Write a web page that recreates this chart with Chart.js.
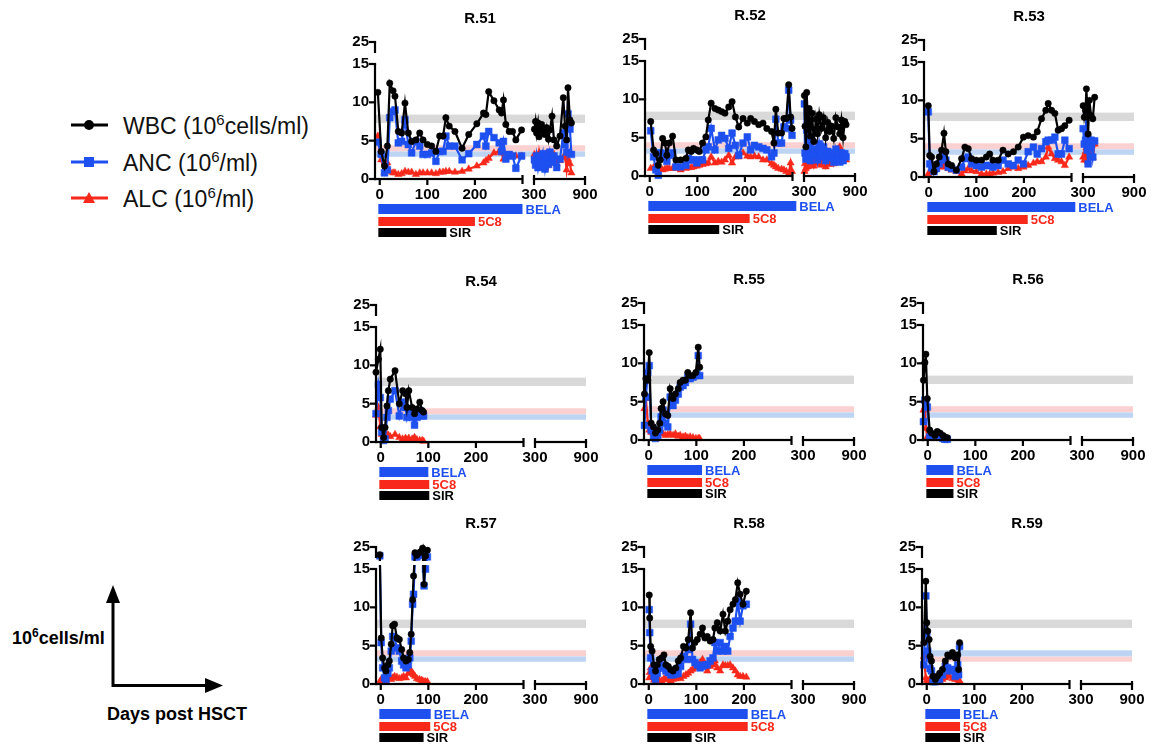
<!DOCTYPE html>
<html>
<head>
<meta charset="utf-8">
<script src="https://cdn.jsdelivr.net/npm/chart.js@4.4.0/dist/chart.umd.min.js"></script>
<style>
body { margin:0; background:#fff; width:1158px; height:748px; position:relative; overflow:hidden; font-family:'Liberation Sans', Arial, sans-serif; }
canvas { position:absolute; z-index:2; }
canvas.axes { z-index:3; pointer-events:none; }
.leg { position:absolute; left:71px; height:30px; display:flex; align-items:center; font-size:23px; color:#111; white-space:nowrap; }
.leg svg { margin-right:15px; }
.leg sup { font-size:15px; }
.note { position:absolute; font-weight:bold; font-size:18px; color:#000; white-space:nowrap; }
.note sup { font-size:12px; }
</style>
</head>
<body>

<div class="leg" style="top:110px">
  <svg width="37" height="14"><line x1="0" y1="7" x2="37" y2="7" stroke="#000" stroke-width="3"/><circle cx="18" cy="7" r="5" fill="#000"/></svg>
  <span>WBC (10<sup>6</sup>cells/ml)</span>
</div>
<div class="leg" style="top:147px">
  <svg width="37" height="14"><line x1="0" y1="7" x2="37" y2="7" stroke="#1e50f0" stroke-width="3"/><rect x="13" y="2" width="10" height="10" fill="#1e50f0"/></svg>
  <span>ANC (10<sup>6</sup>/ml)</span>
</div>
<div class="leg" style="top:183px">
  <svg width="37" height="14"><line x1="0" y1="7" x2="37" y2="7" stroke="#f8281a" stroke-width="3"/><polygon points="18,1 24,12 12,12" fill="#f8281a"/></svg>
  <span>ALC (10<sup>6</sup>/ml)</span>
</div>

<svg style="position:absolute;left:0;top:0" width="300" height="748">
  <line x1="113" y1="687" x2="113" y2="600" stroke="#000" stroke-width="3"/>
  <polygon points="106,603 120,603 113,585" fill="#000"/>
  <line x1="112" y1="685.5" x2="207" y2="685.5" stroke="#000" stroke-width="3"/>
  <polygon points="205,678 205,693 223,685.5" fill="#000"/>
</svg>
<div class="note" style="left:12px;top:626px">10<sup>6</sup>cells/ml</div>
<div class="note" style="left:107px;top:704px">Days post HSCT</div>

<script>
// ---- data (days post HSCT, 10^6 cells/ml) ----
const R51_DAYS = [-4, 3, 10, 16, 21, 28, 32, 39, 46, 53, 60, 67, 76, 84, 91, 100, 109, 118, 126, 133, 139, 146, 158, 173, 187, 204, 218, 223, 229, 240, 251, 256, 260, 265, 272, 279, 286, 298];
const R51_WBC = [11.3, 3.6, 1.7, 4.3, 12.5, 11.5, 10.8, 6.2, 6.0, 9.9, 6.0, 4.9, 5.1, 6.0, 5.1, 4.5, 4.3, 3.6, 5.6, 5.6, 8.0, 6.9, 6.2, 4.0, 5.8, 7.2, 8.6, 8.4, 11.4, 10.2, 9.0, 8.6, 10.3, 7.1, 6.2, 6.2, 5.1, 6.4];
const R51_ANC = [4.8, 3.2, 0.8, 1.2, 8.0, 8.8, 9.0, 4.7, 4.9, 7.7, 4.5, 3.4, 4.9, 4.3, 3.2, 3.2, 3.4, 2.3, 3.6, 3.6, 5.6, 4.3, 4.3, 2.5, 3.3, 4.5, 5.6, 4.3, 6.2, 5.4, 4.7, 3.6, 4.9, 2.6, 3.2, 3.0, 1.4, 3.0];
const R51_ALC = [5.6, 2.5, 0.8, 2.1, 1.0, 0.8, 0.8, 0.6, 0.7, 1.0, 0.9, 0.9, 0.6, 0.8, 0.8, 0.8, 0.8, 0.7, 0.9, 0.9, 1.0, 1.0, 0.9, 1.0, 1.3, 1.7, 2.1, 2.4, 2.7, 3.4, 3.6, 3.4, 2.6, 3.0, 3.0, 3.0, 3.0, 3.0];
const R51_DAYS_LATE = [305, 318, 330, 347, 360, 371, 390, 406, 429, 449, 470, 488, 512, 535, 567, 606, 645, 665, 684, 700, 723, 740];
const R51_WBC_LATE = [6.5, 7.5, 6.0, 7.3, 5.5, 6.7, 7.1, 6.2, 5.8, 6.7, 5.2, 6.4, 8.2, 5.1, 4.3, 5.6, 10.6, 6.9, 5.1, 11.9, 7.7, 7.3];
const R51_ANC_LATE = [2.5, 1.8, 3.0, 1.5, 2.5, 1.6, 2.2, 3.3, 1.3, 2.8, 1.9, 3.5, 2.2, 3.0, 1.5, 2.6, 6.0, 4.5, 3.5, 8.5, 6.5, 3.2];
const R51_ALC_LATE = [3.2, 2.6, 3.0, 2.1, 3.4, 2.5, 3.0, 2.2, 2.8, 3.3, 1.8, 3.0, 2.5, 3.2, 2.0, 2.4, 2.8, 3.1, 1.2, 2.6, 2.0, 0.8];

const R52_DAYS = [2, 8, 13, 18, 22, 27, 32, 36, 41, 48, 55, 65, 76, 81, 87, 92, 99, 104, 111, 118, 123, 129, 137, 144, 151, 158, 166, 173, 180, 187, 196, 205, 212, 220, 229, 238, 246, 256, 261, 265, 270, 277, 282, 287, 292, 296, 299];
const R52_WBC = [7.1, 3.4, 2.9, 1.4, 2.1, 4.9, 4.3, 2.7, 4.3, 5.2, 2.1, 2.1, 2.3, 3.4, 3.2, 3.6, 3.4, 3.2, 4.3, 5.1, 7.3, 9.5, 8.8, 8.6, 8.4, 8.2, 9.0, 9.7, 7.7, 6.4, 7.5, 6.9, 7.5, 7.1, 6.7, 6.9, 6.2, 5.8, 4.3, 8.7, 5.6, 5.6, 7.5, 7.5, 11.9, 7.7, 6.2];
const R52_ANC = [5.9, 2.5, 0.8, 0.1, 3.0, 2.9, 2.5, 1.9, 2.7, 3.0, 1.2, 1.2, 1.4, 2.3, 2.1, 2.1, 1.7, 2.1, 2.1, 3.4, 3.8, 6.2, 3.4, 4.7, 5.3, 4.9, 3.6, 5.6, 4.0, 2.7, 4.3, 5.1, 3.4, 4.0, 3.8, 3.6, 3.4, 2.5, 3.0, 7.4, 4.3, 4.3, 6.4, 6.2, 11.2, 7.3, 5.3];
const R52_ALC = [1.0, 1.1, 1.2, 1.0, 0.9, 0.8, 0.9, 1.0, 1.0, 1.0, 1.0, 0.8, 1.0, 1.1, 1.1, 1.2, 1.3, 1.4, 1.5, 1.6, 1.7, 2.5, 1.7, 1.9, 1.8, 2.1, 2.7, 1.7, 2.5, 2.5, 3.0, 2.6, 2.5, 2.6, 2.5, 2.1, 2.1, 1.6, 1.4, 1.2, 1.0, 0.9, 0.8, 0.6, 0.3, 1.7, 0.6];
const R52_DAYS_LATE = [305, 312, 322, 332, 345, 360, 375, 395, 415, 440, 460, 480, 505, 530, 555, 580, 600, 625, 650, 675, 700, 720, 740, 760, 780, 795];
const R52_WBC_LATE = [10.5, 6.5, 3.8, 10.9, 6.0, 8.8, 5.2, 8.2, 4.5, 7.4, 5.5, 8.0, 6.2, 7.6, 5.0, 7.0, 5.8, 6.5, 4.9, 7.6, 6.4, 5.5, 7.3, 5.0, 7.1, 6.7];
const R52_ANC_LATE = [9.4, 3.0, 2.2, 6.0, 2.5, 4.8, 2.0, 4.5, 2.7, 3.5, 2.1, 4.2, 2.6, 3.8, 2.0, 3.2, 2.4, 3.0, 1.8, 3.5, 2.2, 1.8, 3.0, 2.0, 2.9, 2.5];
const R52_ALC_LATE = [0.6, 1.6, 1.0, 2.1, 1.2, 2.3, 1.5, 2.0, 1.3, 2.5, 1.6, 2.2, 1.4, 1.9, 1.2, 2.0, 1.5, 2.4, 1.6, 2.8, 3.5, 3.8, 3.2, 2.5, 2.8, 2.1];

const R53_DAYS = [-1, 2, 6, 11, 16, 22, 27, 32, 36, 41, 48, 58, 69, 76, 83, 90, 100, 111, 121, 128, 135, 146, 156, 167, 178, 188, 199, 209, 220, 228, 237, 246, 251, 258, 265, 272, 279, 286, 295];
const R53_WBC = [9.3, 2.8, 2.6, 0.7, 1.7, 2.6, 3.5, 5.7, 3.3, 1.7, 1.5, 0.9, 2.4, 3.9, 3.7, 2.4, 2.2, 2.2, 2.6, 3.0, 2.2, 2.2, 3.5, 3.0, 3.3, 3.9, 5.2, 5.4, 5.2, 5.9, 7.6, 8.7, 9.6, 8.7, 8.3, 6.1, 6.3, 6.7, 7.4];
const R53_ANC = [8.5, 1.7, 1.2, 0.7, 1.1, 1.7, 2.6, 2.6, 2.2, 1.3, 1.1, 0.9, 1.3, 2.4, 2.6, 1.7, 1.5, 1.3, 1.5, 1.5, 1.3, 1.5, 2.2, 1.7, 1.5, 2.2, 1.7, 3.3, 3.9, 3.0, 3.7, 4.6, 4.8, 4.8, 5.2, 3.0, 3.0, 4.8, 3.7];
const R53_ALC = [0.4, 0.6, 0.9, 1.0, 1.1, 1.3, 1.4, 1.5, 1.3, 1.1, 0.9, 0.7, 0.4, 0.8, 1.1, 0.8, 0.7, 0.4, 0.4, 0.4, 0.5, 0.6, 0.7, 1.1, 1.3, 1.1, 1.3, 1.5, 1.8, 2.0, 2.0, 2.6, 3.9, 3.0, 2.4, 2.2, 2.0, 1.5, 2.6];
const R53_DAYS_LATE = [302, 315, 330, 340, 350, 360, 375, 395, 415, 437];
const R53_WBC_LATE = [9.3, 7.8, 8.7, 11.5, 9.0, 5.6, 10.0, 8.0, 7.6, 10.4];
const R53_ANC_LATE = [6.3, 4.3, 4.8, 8.7, 3.5, 1.7, 4.0, 4.8, 2.6, 4.7];
const R53_ALC_LATE = [2.6, 2.2, 3.3, 3.8, 2.2, 2.0, 3.9, 2.8, 2.5, 4.3];

const R54_DAYS = [-10, -5, -1, 2, 6, 9, 13, 16, 20, 30, 39, 46, 52, 55, 59, 66, 71, 76, 82, 87, 90];
const R54_WBC = [9.1, 10.8, 12.1, 1.9, 0.6, 1.9, 4.7, 6.7, 8.2, 9.3, 5.0, 6.7, 6.3, 4.5, 6.7, 4.5, 3.7, 4.3, 5.2, 4.1, 3.9];
const R54_ANC = [3.7, 7.5, 5.8, 1.3, 0.2, 0.4, 3.2, 4.1, 5.6, 6.7, 3.4, 5.2, 4.5, 3.2, 4.3, 3.2, 2.2, 3.2, 4.1, 3.4, 3.4];
const R54_ALC = [3.5, 4.5, 2.0, 1.0, 0.2, 0.8, 1.0, 0.9, 0.7, 1.0, 0.6, 0.4, 0.5, 0.3, 0.5, 0.4, 0.6, 0.3, 0.2, 0.2, 0.1];

const R55_DAYS = [-9, -6, -2, 1, 5, 10, 14, 19, 23, 26, 30, 35, 40, 45, 51, 56, 62, 66, 72, 77, 82, 87, 93, 99, 104, 107];
const R55_WBC = [6.0, 8.0, 7.8, 11.4, 2.2, 1.7, 0.9, 1.3, 2.2, 4.1, 5.0, 3.4, 3.2, 6.7, 5.4, 6.0, 6.7, 7.5, 7.8, 7.8, 8.8, 8.4, 8.4, 8.8, 12.1, 9.5];
const R55_ANC = [1.9, 5.6, 8.8, 9.7, 1.3, 0.4, 0.2, 0.6, 1.3, 3.0, 3.9, 2.2, 1.7, 5.6, 4.5, 5.2, 6.0, 6.9, 7.1, 7.5, 8.2, 8.0, 8.2, 8.4, 11.0, 8.4];
const R55_ALC = [4.1, 5.4, 2.2, 1.3, 1.0, 0.9, 0.6, 0.8, 1.1, 0.9, 0.8, 0.6, 0.7, 0.8, 0.6, 0.8, 0.5, 0.6, 0.4, 0.5, 0.3, 0.4, 0.3, 0.2, 0.2, 0.2];

const R56_DAYS = [-9, -6, -4, -1, 4, 8, 15, 20, 26, 32, 36, 41];
const R56_WBC = [7.8, 10.1, 11.2, 5.4, 1.3, 0.9, 0.6, 1.1, 0.9, 0.6, 0.4, 0.3];
const R56_ANC = [2.4, 5.2, 5.0, 4.3, 0.4, 0.4, 0.4, 0.6, 0.4, 0.2, 0.1, 0.1];
const R56_ALC = [3.9, 4.3, 1.5, 0.4, 0.9, 0.3, 0.2, 0.4, 0.2, 0.2, 0.1, 0.1];

const R57_DAYS = [-2, 1, 4, 8, 11, 15, 18, 22, 25, 29, 34, 39, 44, 48, 53, 58, 61, 64, 67, 69, 72, 76, 81, 85, 88, 91, 94, 98];
const R57_WBC = [21.5, 6.0, 3.4, 2.1, 1.7, 2.5, 3.0, 5.2, 7.6, 7.8, 6.0, 5.8, 4.5, 3.4, 3.0, 3.2, 4.1, 6.5, 11.0, 14.1, 22.4, 21.2, 22.4, 23.0, 24.5, 13.0, 20.9, 23.5];
const R57_ANC = [21.0, 5.4, 2.1, 0.8, 0.6, 1.4, 2.1, 4.3, 6.2, 6.0, 4.7, 4.3, 3.0, 2.5, 2.1, 2.5, 3.4, 5.6, 10.4, 11.7, 20.5, 20.5, 21.2, 22.0, 22.7, 12.8, 15.0, 20.5];
const R57_ALC = [0.3, 0.6, 0.3, 0.3, 0.5, 0.8, 0.7, 0.6, 0.8, 1.0, 0.9, 0.7, 0.8, 1.0, 0.8, 1.4, 1.6, 1.7, 1.4, 1.2, 1.0, 0.7, 0.6, 0.5, 0.4, 0.3, 0.3, 0.3];

const R58_DAYS = [1, 2, 4, 7, 11, 14, 18, 22, 27, 32, 36, 41, 46, 51, 57, 62, 67, 73, 78, 83, 88, 92, 97, 102, 108, 113, 118, 123, 129, 135, 139, 144, 150, 156, 161, 166, 171, 177, 182, 187, 192, 198, 205];
const R58_WBC = [11.6, 8.6, 4.9, 4.3, 2.5, 1.7, 2.5, 3.2, 3.4, 3.8, 2.5, 2.3, 1.9, 1.7, 2.1, 3.0, 3.4, 4.9, 4.7, 5.8, 9.3, 4.7, 5.4, 5.8, 6.5, 7.3, 6.0, 6.2, 5.6, 5.8, 7.3, 8.0, 6.9, 9.1, 6.9, 8.2, 9.7, 10.4, 11.0, 13.2, 11.7, 10.4, 12.1];
const R58_ANC = [9.7, 6.7, 3.4, 1.7, 1.0, 0.6, 1.4, 2.1, 2.5, 2.1, 1.7, 1.5, 1.2, 1.2, 1.3, 1.4, 2.3, 3.6, 3.2, 4.5, 7.8, 3.2, 2.8, 2.5, 2.1, 2.3, 2.5, 2.5, 3.0, 3.4, 5.4, 4.3, 5.4, 4.3, 4.9, 4.3, 6.2, 7.3, 8.2, 10.8, 8.2, 10.2, 10.4];
const R58_ALC = [0.8, 1.5, 2.1, 1.0, 0.5, 0.3, 0.6, 0.5, 0.4, 0.7, 0.6, 0.6, 0.4, 0.6, 0.7, 0.8, 0.7, 1.0, 1.2, 1.4, 1.7, 1.9, 2.1, 2.5, 2.8, 3.2, 2.3, 1.7, 2.3, 2.5, 3.0, 2.1, 1.7, 2.5, 2.4, 2.4, 2.5, 2.1, 1.7, 1.2, 1.0, 1.0, 0.9];

const R59_DAYS = [-6, -2, 0, 2, 5, 7, 10, 13, 18, 22, 27, 33, 39, 44, 48, 54, 60, 65, 67, 69];
const R59_WBC = [5.4, 13.4, 8.0, 6.9, 5.8, 3.6, 3.0, 1.0, 0.6, 1.0, 1.4, 1.9, 3.0, 3.8, 3.6, 4.1, 3.4, 3.8, 1.9, 5.4];
const R59_ANC = [2.5, 11.5, 6.7, 4.3, 3.4, 2.0, 1.7, 0.3, 0.3, 0.4, 0.6, 1.2, 2.3, 2.1, 1.7, 1.9, 1.0, 2.5, 1.2, 4.9];
const R59_ALC = [3.6, 0.8, 0.5, 0.3, 0.5, 0.6, 0.5, 0.3, 0.3, 0.3, 0.4, 0.6, 0.8, 1.2, 1.0, 0.7, 0.6, 0.6, 0.5, 0.4];

// treatment periods (start day, end days for BELA / 5C8 / SIR)
const TX_NAMES = ['BELA', '5C8', 'SIR'];
const TX_START = -3;
const R51_TX = [300, 200, 140];
const R52_TX = [308, 210, 146];
const R53_TX = [308, 208, 143];
const R54_TX = [100, 102, 102];
const R55_TX = [112, 112, 112];
const R56_TX = [54, 54, 54];
const R57_TX = [105, 104, 90];
const R58_TX = [208, 208, 90];
const R59_TX = [70, 70, 70];

// normal ranges
const BAND_WBC = [7.3, 8.4];
const BAND_ALC = [3.6, 4.4];
const BAND_ANC = [2.9, 3.6];
const R59_BAND_ALC = [2.9, 3.6];
const R59_BAND_ANC = [3.6, 4.4];

const X_TICKS = [0, 100, 200, 300, 900];
const Y_TICKS = [0, 5, 10, 15, 25];

// ---- broken axes ----
const X_BREAK = { segs: [{from: -10, to: 300, len: 147.5}, {from: 300, to: 900, len: 51}], gap: 11.5 };
const Y_BREAK = { segs: [{from: 0, to: 15, len: 115}, {from: 20, to: 25, len: 11}], gap: 11 };
const AXW = 2.2;

const BLUE = '#1e50f0', RED = '#f8281a', BLACK = '#000000';
const TX_COLORS = [BLUE, RED, BLACK];
Chart.defaults.font.family = "'Liberation Sans', Arial, sans-serif";

class BrokenScale extends Chart.LinearScale {
  brk() { return this.axis === 'x' ? X_BREAK : Y_BREAK; }
  determineDataLimits() {
    const s = this.brk().segs;
    this.min = s[0].from;
    this.max = s[s.length - 1].to;
  }
  buildTicks() {
    return (this.axis === 'x' ? X_TICKS : Y_TICKS).map(v => ({value: v}));
  }
  segPixel(value, i) {
    const b = this.brk();
    const total = b.segs.reduce((a, s) => a + s.len, 0) + b.gap * (b.segs.length - 1);
    const k = (this.isHorizontal() ? this.width : this.height) / total;
    let off = 0;
    for (let j = 0; j < i; j++) off += b.segs[j].len + b.gap;
    const s = b.segs[i];
    let f = (value - s.from) / (s.to - s.from) * s.len;
    const next = b.segs[i + 1];
    if (value > s.to && next && next.from > s.to) {
      f = s.len + (value - s.to) / (next.from - s.to) * b.gap;
    }
    const d = (off + f) * k;
    return this.isHorizontal() ? this.left + d : this.bottom - d;
  }
  getPixelForValue(value) {
    if (value === null || value === undefined || isNaN(value)) return NaN;
    let i = 0;
    this.brk().segs.forEach((s, j) => { if (value >= s.from) i = j; });
    return this.segPixel(value, i);
  }
}
BrokenScale.id = 'broken';
BrokenScale.defaults = {};
Chart.register(BrokenScale);

// normal-range bands under the data, and clipping of the y-axis break
const bandPlugin = {
  id: 'bands',
  beforeDatasetsDraw(chart) {
    const {ctx, chartArea} = chart;
    const ys = chart.scales.y;
    const p = chart.options.plugins.bands;
    [[p.wbc, '#d9d9d9'], [p.alc, '#fbd0d0'], [p.anc, '#bdd5f3']].forEach(([b, c]) => {
      const t = ys.getPixelForValue(b[1]), bt = ys.getPixelForValue(b[0]);
      ctx.fillStyle = c;
      ctx.fillRect(chartArea.left + 1, t, chartArea.right - chartArea.left - 1, bt - t);
    });
    const y15 = ys.getPixelForValue(15), y20 = ys.getPixelForValue(20), y25 = ys.getPixelForValue(25);
    ctx.save();
    ctx.beginPath();
    ctx.rect(0, y25 - 8, chart.width, (y20 + 3) - (y25 - 8));
    ctx.rect(0, y15 - 4, chart.width, chart.height - (y15 - 4));
    ctx.clip();
  },
  afterDatasetsDraw(chart) {
    chart.ctx.restore();
  }
};

// title and treatment bars
const treatPlugin = {
  id: 'treat',
  afterDraw(chart) {
    const {ctx, chartArea} = chart;
    const xs = chart.scales.x;
    const p = chart.options.plugins.treat;
    const y0 = Math.round(chart.scales.y.getPixelForValue(0));
    ctx.save();
    ctx.fillStyle = '#000';
    ctx.font = "bold 15px 'Liberation Sans', Arial, sans-serif";
    ctx.textAlign = 'center'; ctx.textBaseline = 'middle';
    ctx.fillText(p.title, (chartArea.left + chartArea.right) / 2, chartArea.top - 23);
    const rows = [[25, 10], [38, 9], [49, 9]];
    ctx.font = "bold 13px 'Liberation Sans', Arial, sans-serif";
    ctx.textAlign = 'left';
    TX_NAMES.forEach((name, i) => {
      const xa = xs.segPixel(TX_START, 0), xb = xs.segPixel(p.tx[i], 0);
      ctx.fillStyle = TX_COLORS[i];
      ctx.fillRect(xa, y0 + rows[i][0], xb - xa, rows[i][1]);
      ctx.fillText(name, xb + 3, y0 + rows[i][0] + rows[i][1] / 2 + 1);
    });
    ctx.restore();
  }
};

// broken axis lines, drawn on a layer above the chart from the chart's own scales
function drawBrokenAxes(chart, left, top) {
  const ov = document.createElement('canvas');
  ov.className = 'axes';
  ov.width = chart.width; ov.height = chart.height;
  ov.style.left = left + 'px'; ov.style.top = top + 'px';
  document.body.appendChild(ov);
  const ctx = ov.getContext('2d');
  const xs = chart.scales.x, ys = chart.scales.y;
  const h = AXW / 2;
  const x0 = Math.round(chart.chartArea.left), y0 = Math.round(ys.getPixelForValue(0));
  const y15 = ys.getPixelForValue(15), y20 = ys.getPixelForValue(20), y25 = ys.getPixelForValue(25);
  const e1 = xs.segPixel(300, 0), s2 = xs.segPixel(300, 1), e2 = xs.segPixel(900, 1);
  ctx.fillStyle = '#000';
  ctx.fillRect(x0 - h, y15, AXW, y0 + h - y15);
  ctx.fillRect(x0 - h, y25, AXW, y20 - y25);
  Y_TICKS.forEach(v => { const py = ys.getPixelForValue(v); ctx.fillRect(x0 - 6, py - h, 6 + h, AXW); });
  ctx.fillRect(x0 - h, y0 - h, e1 - x0 + h, AXW);
  ctx.fillRect(s2 - h, y0 - h, e2 - s2 + AXW, AXW);
  [0, 100, 200, 900].forEach(v => { const px = xs.getPixelForValue(v); ctx.fillRect(px - h, y0, AXW, 6); });
  ctx.fillRect(e1 - h, y0 - 4, AXW, 9);
  ctx.fillRect(s2 - h, y0 - 4, AXW, 10);
  ctx.fillRect(e2 - h, y0 - 3, AXW, 3);
}

function points(days, vals, daysLate, valsLate) {
  const out = days.map((d, i) => ({x: d, y: vals[i]}));
  if (daysLate) {
    out.push({x: 300, y: null});
    daysLate.forEach((d, i) => out.push({x: d, y: valsLate[i]}));
  }
  return out;
}

function dataset(label, color, style, radius, data) {
  return {
    label, data, borderColor: color, backgroundColor: color,
    pointBackgroundColor: color, pointBorderColor: color, pointBorderWidth: 0.5,
    pointStyle: style, pointRadius: radius, borderWidth: 2.2,
    spanGaps: false, clip: 12, tension: 0
  };
}

const PANELS = [
  {title: 'R.51', ax: 375, y0: 179, days: R51_DAYS, wbc: R51_WBC, anc: R51_ANC, alc: R51_ALC,
   late: [R51_DAYS_LATE, R51_WBC_LATE, R51_ANC_LATE, R51_ALC_LATE], tx: R51_TX},
  {title: 'R.52', ax: 645, y0: 176, days: R52_DAYS, wbc: R52_WBC, anc: R52_ANC, alc: R52_ALC,
   late: [R52_DAYS_LATE, R52_WBC_LATE, R52_ANC_LATE, R52_ALC_LATE], tx: R52_TX},
  {title: 'R.53', ax: 924, y0: 177, days: R53_DAYS, wbc: R53_WBC, anc: R53_ANC, alc: R53_ALC,
   late: [R53_DAYS_LATE, R53_WBC_LATE, R53_ANC_LATE, R53_ALC_LATE], tx: R53_TX},
  {title: 'R.54', ax: 376, y0: 442, days: R54_DAYS, wbc: R54_WBC, anc: R54_ANC, alc: R54_ALC, tx: R54_TX},
  {title: 'R.55', ax: 644, y0: 440, days: R55_DAYS, wbc: R55_WBC, anc: R55_ANC, alc: R55_ALC, tx: R55_TX},
  {title: 'R.56', ax: 923, y0: 440, days: R56_DAYS, wbc: R56_WBC, anc: R56_ANC, alc: R56_ALC, tx: R56_TX},
  {title: 'R.57', ax: 376, y0: 684, days: R57_DAYS, wbc: R57_WBC, anc: R57_ANC, alc: R57_ALC, tx: R57_TX},
  {title: 'R.58', ax: 644, y0: 684, days: R58_DAYS, wbc: R58_WBC, anc: R58_ANC, alc: R58_ALC, tx: R58_TX},
  {title: 'R.59', ax: 922, y0: 684, days: R59_DAYS, wbc: R59_WBC, anc: R59_ANC, alc: R59_ALC, tx: R59_TX,
   bandAlc: R59_BAND_ALC, bandAnc: R59_BAND_ANC}
];

const tickFont = {size: 15, weight: 'bold'};

PANELS.forEach(p => {
  const cv = document.createElement('canvas');
  cv.width = 270; cv.height = 236;
  const left = p.ax - 40, top = p.y0 - 174;
  cv.style.left = left + 'px';
  cv.style.top = top + 'px';
  document.body.appendChild(cv);
  const L = p.late || [];
  const chart = new Chart(cv, {
    type: 'line',
    data: {
      datasets: [
        dataset('WBC', BLACK, 'circle', 3.2, points(p.days, p.wbc, L[0], L[1])),
        dataset('ANC', BLUE, 'rect', 4.8, points(p.days, p.anc, L[0], L[2])),
        dataset('ALC', RED, 'triangle', 4.2, points(p.days, p.alc, L[0], L[3]))
      ]
    },
    options: {
      responsive: false, animation: false, events: [],
      layout: {padding: {left: 0, right: 20, top: 37, bottom: 0}},
      plugins: {
        legend: {display: false}, tooltip: {enabled: false}, title: {display: false},
        bands: {wbc: BAND_WBC, alc: p.bandAlc || BAND_ALC, anc: p.bandAnc || BAND_ANC},
        treat: {title: p.title, tx: p.tx}
      },
      scales: {
        x: {type: 'broken', position: 'bottom',
            grid: {display: false, drawTicks: false}, border: {display: false},
            ticks: {autoSkip: false, maxRotation: 0, padding: 7, color: '#000', font: tickFont,
                    callback: v => String(v)},
            afterFit: s => { s.height = 62; }},
        y: {type: 'broken', position: 'left',
            grid: {display: false, drawTicks: false}, border: {display: false},
            ticks: {autoSkip: false, padding: 6, color: '#000', font: tickFont,
                    callback: v => String(v)},
            afterFit: s => { s.width = 40; }}
      }
    },
    plugins: [bandPlugin, treatPlugin]
  });
  drawBrokenAxes(chart, left, top);
});
</script>
</body>
</html>
